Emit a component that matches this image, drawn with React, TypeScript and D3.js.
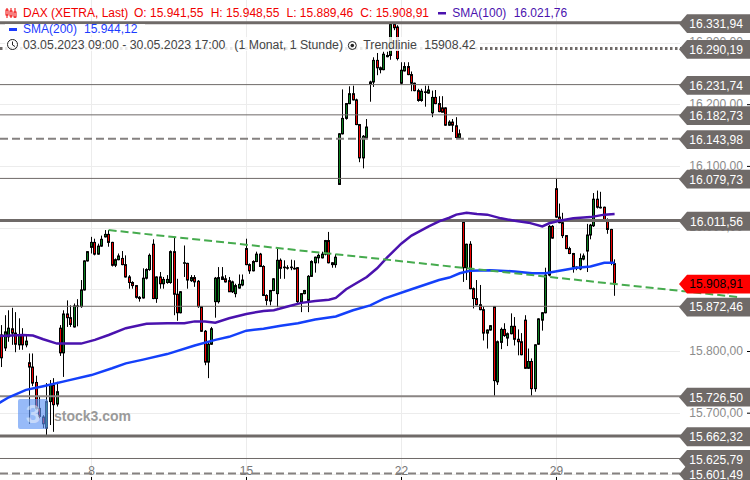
import * as d3 from "d3";
import React, { useEffect, useRef } from "react";

// open, high, low, close per hourly candle (03.05. - 30.05.2023)
const ohlc: number[][] = [
  [15850, 15870, 15795, 15820], [15826, 15842, 15774, 15789], [15805, 15858, 15800, 15831], [15823, 15866, 15815, 15837],
  [15836, 15870, 15810, 15829], [15829, 15863, 15798, 15811], [15810, 15853, 15802, 15826], [15826, 15837, 15802, 15810],
  [15810, 15826, 15806, 15816], [15781, 15796, 15682, 15774], [15774, 15796, 15743, 15748], [15749, 15760, 15705, 15707],
  [15707, 15726, 15691, 15694], [15693, 15696, 15675, 15682], [15675, 15748, 15664, 15718], [15718, 15753, 15680, 15745],
  [15745, 15756, 15669, 15713], [15714, 15750, 15710, 15734], [15837, 15842, 15792, 15797], [15797, 15866, 15758, 15860],
  [15860, 15882, 15839, 15854], [15854, 15874, 15839, 15843], [15839, 15877, 15838, 15873], [15873, 15884, 15840, 15872],
  [15872, 15915, 15870, 15899], [15899, 15947, 15898, 15946], [15946, 15962, 15945, 15961], [15968, 15985, 15958, 15976],
  [15976, 15982, 15955, 15957], [15957, 15974, 15956, 15970], [15970, 15987, 15969, 15981], [15985, 15996, 15984, 15989],
  [15989, 15996, 15969, 15976], [15976, 15977, 15937, 15939], [15939, 15950, 15936, 15948], [15948, 15958, 15947, 15954],
  [15950, 15962, 15939, 15940], [15940, 15955, 15919, 15920], [15920, 15923, 15901, 15911], [15911, 15913, 15901, 15906],
  [15906, 15907, 15885, 15887], [15887, 15889, 15880, 15885], [15886, 15934, 15885, 15918], [15918, 15934, 15916, 15932],
  [15932, 15958, 15930, 15955], [15973, 15981, 15884, 15885], [15885, 15921, 15878, 15920], [15920, 15928, 15901, 15909],
  [15909, 15920, 15901, 15916], [15911, 15923, 15909, 15916], [15911, 15963, 15909, 15961], [15961, 15985, 15858, 15892],
  [15892, 15917, 15849, 15862], [15862, 15897, 15861, 15896], [15943, 15971, 15920, 15943], [15942, 15943, 15901, 15915],
  [15914, 15923, 15912, 15919], [15919, 15923, 15904, 15912], [15913, 15915, 15870, 15872], [15872, 15873, 15831, 15832],
  [15832, 15834, 15777, 15782], [15782, 15815, 15756, 15811], [15811, 15839, 15810, 15836], [15880, 15920, 15854, 15918],
  [15880, 15936, 15877, 15919], [15920, 15936, 15915, 15916], [15917, 15923, 15911, 15912], [15914, 15920, 15896, 15896],
  [15896, 15914, 15894, 15912], [15893, 15909, 15887, 15906], [15902, 15924, 15901, 15908], [15907, 15924, 15905, 15915],
  [15966, 15982, 15939, 15940], [15940, 15942, 15925, 15930], [15930, 15947, 15929, 15945], [15945, 15961, 15944, 15957],
  [15957, 15959, 15936, 15937], [15937, 15939, 15889, 15890], [15890, 15892, 15874, 15882], [15881, 15899, 15874, 15898],
  [15898, 15918, 15897, 15917], [15893, 15968, 15871, 15947], [15947, 15950, 15917, 15934], [15936, 15947, 15917, 15935],
  [15935, 15939, 15932, 15935], [15935, 15948, 15931, 15936], [15934, 15947, 15932, 15933], [15935, 15936, 15878, 15880],
  [15880, 15894, 15863, 15893], [15893, 15899, 15892, 15898], [15882, 15923, 15863, 15921], [15921, 15947, 15920, 15945],
  [15943, 15953, 15927, 15952], [15951, 15958, 15942, 15955], [15951, 15961, 15950, 15957], [15957, 15980, 15955, 15979],
  [15979, 15993, 15942, 15943], [15943, 15944, 15935, 15940], [15940, 15957, 15935, 15952], [16070, 16153, 16069, 16152],
  [16152, 16224, 16151, 16177], [16177, 16202, 16175, 16201], [16201, 16229, 16200, 16217], [16217, 16230, 16206, 16207],
  [16207, 16209, 16166, 16167], [16167, 16168, 16106, 16113], [16113, 16150, 16096, 16148], [16146, 16176, 16144, 16163],
  [16232, 16238, 16204, 16236], [16236, 16276, 16228, 16271], [16271, 16283, 16247, 16259], [16259, 16261, 16250, 16256],
  [16256, 16285, 16255, 16281], [16279, 16285, 16276, 16277], [16279, 16331, 16272, 16330], [16330, 16331, 16320, 16324],
  [16325, 16328, 16271, 16274], [16234, 16268, 16232, 16255], [16254, 16268, 16253, 16261], [16261, 16268, 16247, 16248],
  [16248, 16253, 16221, 16234], [16234, 16235, 16221, 16222], [16222, 16225, 16204, 16206], [16206, 16225, 16204, 16221],
  [16220, 16230, 16196, 16219], [16218, 16230, 16217, 16223], [16186, 16222, 16179, 16211], [16211, 16223, 16200, 16201],
  [16201, 16213, 16187, 16188], [16194, 16213, 16187, 16187], [16194, 16195, 16165, 16166], [16166, 16174, 16165, 16171],
  [16171, 16176, 16155, 16166], [16165, 16179, 16145, 16146], [16146, 16159, 16145, 16152], [16009, 16012, 15912, 15935],
  [15935, 15974, 15915, 15973], [15973, 15978, 15900, 15901], [15901, 15903, 15869, 15885], [15885, 15915, 15874, 15875],
  [15875, 15907, 15866, 15867], [15867, 15872, 15817, 15829], [15829, 15835, 15804, 15834], [15834, 15842, 15833, 15841],
  [15872, 15873, 15727, 15752], [15750, 15817, 15745, 15815], [15814, 15838, 15803, 15835], [15835, 15845, 15823, 15825],
  [15821, 15830, 15808, 15828], [15828, 15861, 15827, 15840], [15840, 15855, 15809, 15819], [15819, 15835, 15793, 15815],
  [15815, 15829, 15793, 15794], [15850, 15858, 15771, 15772], [15772, 15804, 15771, 15783], [15783, 15788, 15727, 15739],
  [15739, 15811, 15734, 15810], [15811, 15853, 15810, 15852], [15850, 15863, 15833, 15862], [15862, 15935, 15861, 15923],
  [15923, 16004, 15921, 16002], [16002, 16004, 15982, 15983], [16063, 16080, 16016, 16017], [16017, 16039, 16007, 16008],
  [16008, 16024, 15983, 15987], [15987, 15988, 15965, 15966], [15966, 15969, 15957, 15958], [15958, 15959, 15927, 15936],
  [15936, 15937, 15931, 15934], [15933, 15958, 15931, 15950], [15949, 15958, 15947, 15954], [15962, 16006, 15928, 15988],
  [15988, 16006, 15981, 16004], [16003, 16056, 16001, 16046], [16046, 16060, 16031, 16033], [16033, 16058, 16031, 16032],
  [16033, 16034, 16012, 16013], [16013, 16015, 15990, 15997], [15997, 15998, 15939, 15942], [15941.55, 15948.55, 15889.46, 15908.91],
];

// moving averages, [candle index, value] read at the bends of each curve
const sma100: [number, number][] = [
  [0, 15824], [7, 15826], [10, 15825], [13, 15819], [17, 15812], [24, 15812], [28, 15818], [32, 15826], [37, 15837],
  [43, 15844], [49, 15845], [54, 15845], [57, 15848], [60, 15848], [63, 15846], [67, 15853], [72, 15860], [77, 15865],
  [80, 15866], [84, 15872], [88, 15878], [92, 15881], [96, 15883], [98, 15886], [101, 15900], [107, 15920], [110, 15934],
  [113, 15952], [117, 15974], [120, 15987], [125, 16002], [128, 16010], [131, 16016], [133, 16021], [136, 16024],
  [139, 16022], [142, 16021], [146, 16015], [150, 16011], [154, 16008], [158, 16002], [160, 16007], [163, 16011],
  [167, 16015], [172, 16017], [176, 16021], [179, 16022],
];
const sma200: [number, number][] = [
  [0, 15715], [3, 15725], [8, 15737], [13, 15743], [20, 15752], [27, 15761], [33, 15772], [37, 15780], [42, 15786],
  [49, 15795], [57, 15809], [63, 15818], [67, 15823], [72, 15833], [77, 15836], [82, 15841], [87, 15845], [92, 15851],
  [98, 15856], [103, 15866], [108, 15874], [112, 15885], [120, 15900], [128, 15915], [131, 15919], [134, 15926],
  [137, 15930], [143, 15931], [150, 15929], [155, 15926], [159, 15926], [163, 15930], [168, 15935], [172, 15937],
  [176, 15943], [179, 15943],
];
const trendline: [number, number][] = [[32, 15996], [215.6, 15887]];

// horizontal levels with the tag on the price axis
const levels = [16331.94, 16290.19, 16231.74, 16182.73, 16143.98, 16079.73, 16011.56, 15872.46, 15726.5, 15662.32, 15625.79, 15601.49];
const levelKinds = ["thick", "dotted", "thin", "thin", "dashed", "thin", "thick", "thin", "mid", "thick", "thin", "dashed"];
const lastClose = 15908.91;

const priceTicks = [15600, 15700, 15800, 15900, 16000, 16100, 16200, 16300];
const dayIndex = [27, 72, 117, 162];
const dayLabels = ["8", "15", "22", "29"];

const width = 750,
  height = 480;
const tagGrey = "#6f6a68";
const purple = "#4a12ae";
const blue = "#1440fa";
const font = "'Liberation Sans', Arial, sans-serif";

const deFormat = d3.formatLocale({ decimal: ",", thousands: ".", grouping: [3], currency: ["", "€"] }).format(",.2f");

const App: React.FC = () => {
  const svgRef = useRef<SVGSVGElement>(null);

  useEffect(() => {
    if (!svgRef.current) return;
    const svg = d3.select(svgRef.current);
    svg.selectAll("*").remove();

    const x = d3.scaleLinear().domain([0, 179]).range([-1.5, 614.6]);
    const y = d3.scaleLinear().domain([15800, 16200]).range([351, 104.2]);
    const px = (i: number) => Math.floor(x(i)) + 0.5;

    // grid
    const grid = svg.append("g").attr("stroke", "#ececec").attr("stroke-width", 1);
    grid.selectAll("line.h").data(priceTicks).enter().append("line")
      .attr("x1", 0).attr("x2", 680)
      .attr("y1", (d) => Math.round(y(d)) + 0.5).attr("y2", (d) => Math.round(y(d)) + 0.5);
    grid.selectAll("line.v").data(dayIndex).enter().append("line")
      .attr("x1", px).attr("x2", px).attr("y1", 0).attr("y2", height);

    // price axis
    const yAxis = svg.append("g").attr("transform", "translate(747,0)")
      .call(d3.axisRight(y).tickValues(priceTicks).tickSize(3).tickPadding(-4).tickFormat((d) => deFormat(d as number)));
    yAxis.select(".domain").remove();
    yAxis.selectAll(".tick line").attr("stroke", "#000");
    yAxis.selectAll(".tick text")
      .attr("text-anchor", "end").attr("x", -4).attr("dy", "0.28em")
      .style("font-family", font).style("font-size", "12.1px").attr("fill", "#8c8c8c");

    // day axis
    const xAxis = svg.append("g").attr("transform", "translate(0,477)")
      .call(d3.axisBottom(x).tickValues(dayIndex).tickSize(3).tickFormat((_, i) => dayLabels[i]));
    xAxis.select(".domain").remove();
    xAxis.selectAll(".tick").attr("transform", (d) => `translate(${px(d as number)},0)`);
    xAxis.selectAll(".tick line").attr("stroke", "#000");
    xAxis.selectAll(".tick text")
      .attr("y", -2).attr("dy", 0)
      .style("font-family", font).style("font-size", "12px").attr("fill", "#777");

    // candles
    const candles = svg.append("g");
    const rows = ohlc.map((r, i) => ({ i, o: r[0], h: r[1], l: r[2], c: r[3] }));
    candles.selectAll("line").data(rows).enter().append("line")
      .attr("x1", (d) => px(d.i)).attr("x2", (d) => px(d.i))
      .attr("y1", (d) => y(d.h)).attr("y2", (d) => y(d.l))
      .attr("stroke", "#000").attr("stroke-width", 1);
    candles.selectAll("rect").data(rows).enter().append("rect")
      .attr("x", (d) => px(d.i) - 1)
      .attr("width", 2)
      .attr("y", (d) => y(Math.max(d.o, d.c)))
      .attr("height", (d) => Math.max(Math.abs(y(d.o) - y(d.c)), 0.5))
      .attr("fill", (d) => (d.c >= d.o ? "#0a7d1e" : "#f00000"))
      .attr("stroke", "#000").attr("stroke-width", 1);

    // level lines
    const kindStyle: Record<string, { w: number; dash: string; color: string }> = {
      thick: { w: 3, dash: "", color: tagGrey },
      thin: { w: 1, dash: "", color: tagGrey },
      mid: { w: 2, dash: "", color: "#8a8583" },
      dotted: { w: 3, dash: "2.5,2.5", color: tagGrey },
      dashed: { w: 2, dash: "8,4", color: "#858180" },
    };
    svg.append("g").selectAll("line").data(levels).enter().append("line")
      .attr("x1", 0).attr("x2", 684)
      .attr("y1", (d) => y(d)).attr("y2", (d) => y(d))
      .attr("stroke", (_, i) => kindStyle[levelKinds[i]].color)
      .attr("stroke-width", (_, i) => kindStyle[levelKinds[i]].w)
      .attr("stroke-dasharray", (_, i) => kindStyle[levelKinds[i]].dash);

    // moving averages and trendline
    const line = d3.line<[number, number]>().x((d) => x(d[0])).y((d) => y(d[1]));
    svg.append("path").attr("d", line(sma100)).attr("fill", "none").attr("stroke", purple).attr("stroke-width", 2.5);
    svg.append("path").attr("d", line(sma200)).attr("fill", "none").attr("stroke", blue).attr("stroke-width", 2.5);
    svg.append("path").attr("d", line(trendline)).attr("fill", "none").attr("stroke", "#46ab4e")
      .attr("stroke-width", 2).attr("stroke-dasharray", "8,4");

    // tags on the price axis, their centre sits a little under the level
    const tagPath = (py: number) =>
      `M679,${py}L687,${py - 9.4}L750,${py - 9.4}L750,${py + 9.4}L687,${py + 9.4}Z`;
    const tags = svg.append("g").selectAll("g").data(levels).enter().append("g");
    tags.append("path").attr("d", (d) => tagPath(y(d) + 0.8)).attr("fill", tagGrey);
    tags.append("text")
      .attr("x", 743).attr("y", (d) => y(d) + 0.8).attr("dy", "0.36em").attr("text-anchor", "end")
      .attr("fill", "#fff").style("font-family", font).style("font-size", "12.1px")
      .text((d) => deFormat(d));
    svg.append("path").attr("d", tagPath(y(lastClose) + 0.3)).attr("fill", "#ff0000");
    svg.append("text")
      .attr("x", 743).attr("y", y(lastClose) + 0.3).attr("dy", "0.36em").attr("text-anchor", "end")
      .attr("fill", "#000").style("font-family", font).style("font-size", "12.1px")
      .text(deFormat(lastClose));

    // watermark
    const mark = svg.append("g");
    mark.append("rect").attr("x", 18).attr("y", 399).attr("width", 30).attr("height", 30).attr("rx", 2)
      .attr("fill", "#5f95f5").attr("opacity", 0.65);
    mark.append("text").attr("x", 33).attr("y", 423).attr("text-anchor", "middle").attr("fill", "#fff").attr("opacity", 0.45)
      .style("font-family", font).style("font-size", "26px").style("font-weight", "bold").text("3");
    mark.append("text").attr("x", 54).attr("y", 420.5).attr("fill", "#9a9a9a")
      .style("font-family", font).style("font-size", "14px").style("font-weight", "bold").text("stock3.com");

    // legend backgrounds
    svg.append("rect").attr("x", 5).attr("y", 24).attr("width", 140).attr("height", 11).attr("fill", "#fff").attr("opacity", 0.85);
    svg.append("rect").attr("x", 5).attr("y", 37).attr("width", 475).attr("height", 14).attr("fill", "#fff").attr("opacity", 0.85);

    // legend text
    const legend = svg.append("g").style("font-family", font).style("font-size", "12px");
    const put = (tx: number, ty: number, color: string, s: string, size = 12) =>
      legend.append("text").attr("x", tx).attr("y", ty).attr("fill", color).style("font-size", `${size}px`).text(s);
    put(23, 17, "#f00000", "DAX (XETRA, Last)");
    put(134, 17, "#f00000", "O: 15.941,55");
    put(210.7, 17, "#f00000", "H: 15.948,55");
    put(286.5, 17, "#f00000", "L: 15.889,46");
    put(360.3, 17, "#f00000", "C: 15.908,91");
    put(452.3, 17, purple, "SMA(100)");
    put(513.7, 17, purple, "16.021,76");
    put(23, 33, "#1c3cff", "SMA(200)");
    put(84, 33, "#1c3cff", "15.944,12");
    put(23, 49, "#444", "03.05.2023 09:00 - 30.05.2023 17:00", 12.3);
    put(234.3, 49, "#444", "(1 Monat, 1 Stunde)", 12.3);
    put(363.3, 49, "#444", "Trendlinie", 12.3);
    put(424.3, 49, "#444", "15908.42", 12.3);

    legend.append("rect").attr("x", 438).attr("y", 12).attr("width", 8).attr("height", 2.5).attr("fill", purple);
    legend.append("rect").attr("x", 9).attr("y", 28).attr("width", 8).attr("height", 3).attr("fill", "#1c3cff");

    // candle icon
    const icon = legend.append("g").attr("stroke", "#f00000").attr("fill", "#fff");
    [7, 11, 15].forEach((ix, k) => {
      icon.append("line").attr("x1", ix).attr("x2", ix).attr("y1", 8).attr("y2", 18);
      icon.append("rect").attr("x", ix - 1).attr("y", 10 + k).attr("width", 2).attr("height", 5);
    });
    // clock icon
    const clock = legend.append("g").attr("stroke", "#222").attr("fill", "none");
    clock.append("circle").attr("cx", 12.5).attr("cy", 44.5).attr("r", 5);
    clock.append("path").attr("d", "M12.5,41.5V45L15,46.5");
    // trendline icon
    const dot = legend.append("g");
    dot.append("circle").attr("cx", 352.3).attr("cy", 45.5).attr("r", 4).attr("fill", "none").attr("stroke", "#222");
    dot.append("circle").attr("cx", 352.3).attr("cy", 45.5).attr("r", 1.8).attr("fill", "#222");
  }, []);

  return <svg ref={svgRef} width={width} height={height} style={{ position: "absolute", left: 0, top: 0 }} />;
};

export default App;
